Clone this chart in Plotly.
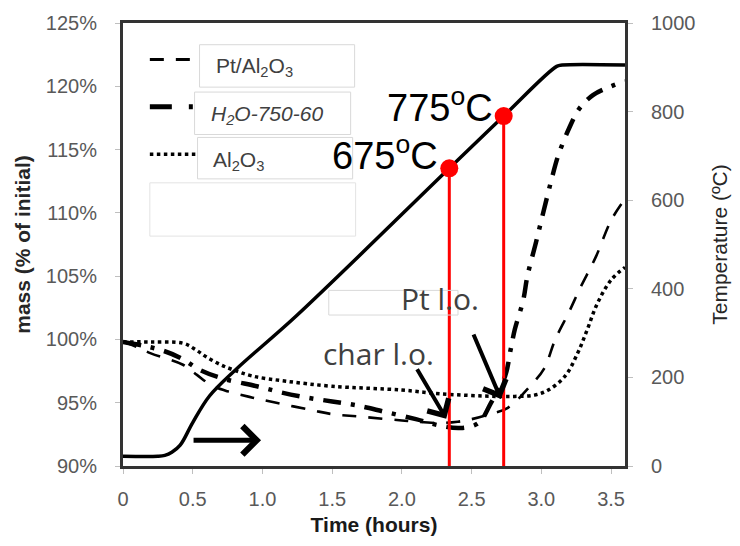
import plotly.graph_objects as go

# ---------------- data ----------------
time_pt = [0, 0.1, 0.2, 0.43, 0.53, 0.63, 0.75, 0.93, 1.14, 1.36, 1.5, 1.7, 2.0, 2.25, 2.4, 2.5, 2.6, 2.76, 2.91, 3.02, 3.1, 3.2, 3.28, 3.39, 3.5, 3.6]
mass_pt = [99.8, 99.4, 98.9, 98.0, 97.2, 96.4, 95.9, 95.4, 94.9, 94.4, 94.1, 93.9, 93.6, 93.4, 93.5, 93.7, 94.0, 94.6, 96.2, 97.7, 100.0, 102.2, 104.1, 106.5, 109.4, 111.1]

time_h2o = [0, 0.15, 0.29, 0.42, 0.55, 0.72, 0.96, 1.14, 1.32, 1.5, 1.67, 1.87, 2.1, 2.27, 2.42, 2.55, 2.64, 2.74, 2.78, 2.81, 2.87, 2.9, 2.96, 3.02, 3.07, 3.12, 3.2, 3.27, 3.37, 3.5, 3.6]
mass_h2o = [99.8, 99.5, 99.1, 98.5, 97.6, 96.9, 96.3, 95.8, 95.4, 95.1, 94.8, 94.3, 93.7, 93.2, 93.0, 93.4, 95.0, 97.1, 99.2, 100.8, 103.1, 105.0, 107.6, 110.3, 112.5, 114.5, 116.7, 118.2, 119.3, 120.0, 120.4]

time_al = [0, 0.2, 0.43, 0.52, 0.6, 0.7, 0.79, 0.93, 1.17, 1.5, 2.0, 2.28, 2.67, 2.81, 2.95, 3.05, 3.17, 3.26, 3.33, 3.4, 3.5, 3.6]
mass_al = [99.8, 99.8, 99.7, 99.2, 98.6, 98.0, 97.6, 97.1, 96.7, 96.3, 96.0, 95.7, 95.5, 95.5, 95.6, 96.0, 97.1, 98.9, 100.8, 102.8, 104.7, 105.7]

time_T = [0, 0.25, 0.3, 0.35, 0.41, 0.5, 0.62, 0.81, 1.24, 2.34, 2.73, 3.11, 3.15, 3.6]
temp_T = [22, 22, 24, 31, 47, 98, 158, 218, 338, 672, 790, 902, 905, 905]

mark_time = [2.34, 2.73]
mark_temp = [672, 790]
mark_labels = ["675<sup>o</sup>C", "775<sup>o</sup>C"]

series_names = ["Pt/Al<sub>2</sub>O<sub>3</sub>", "<i>H<sub>2</sub>O-750-60</i>", "Al<sub>2</sub>O<sub>3</sub>"]

x_ticks = [0, 0.5, 1.0, 1.5, 2.0, 2.5, 3.0, 3.5]
x_ticktext = ["0", "0.5", "1.0", "1.5", "2.0", "2.5", "3.0", "3.5"]
y_ticks = [90, 95, 100, 105, 110, 115, 120, 125]
y_ticktext = ["90%", "95%", "100%", "105%", "110%", "115%", "120%", "125%"]
y2_ticks = [0, 200, 400, 600, 800, 1000]

# ---------------- layout helpers ----------------
L, R, T, B = 123, 628, 22, 471
W, H = 740, 546

def px(x):
    return (x - L) / (R - L)

def py(y):
    return (B - y) / (B - T)

FONT = "Arial, Liberation Sans, sans-serif"
GRAY = "#595959"
DARK = "#404040"

fig = go.Figure()

fig.add_trace(go.Scatter(x=time_pt, y=mass_pt, mode="lines", name="Pt/Al2O3",
                         line=dict(color="black", width=2.6, dash="14px,12px"), line_shape="spline"))
fig.add_trace(go.Scatter(x=time_h2o, y=mass_h2o, mode="lines", name="H2O-750-60",
                         line=dict(color="black", width=4.5, dash="18px,10px,4px,10px"), line_shape="spline"))
fig.add_trace(go.Scatter(x=time_al, y=mass_al, mode="lines", name="Al2O3",
                         line=dict(color="black", width=3.5, dash="dot"), line_shape="spline"))
fig.add_trace(go.Scatter(x=time_T, y=temp_T, mode="lines", name="Temperature", yaxis="y2",
                         line=dict(color="black", width=3.5), line_shape="spline"))
for t, tc in zip(mark_time, mark_temp):
    fig.add_trace(go.Scatter(x=[t, t], y=[0, tc], mode="lines", yaxis="y2",
                             line=dict(color="red", width=3)))
fig.add_trace(go.Scatter(x=mark_time, y=mark_temp, mode="markers", yaxis="y2",
                         marker=dict(color="red", size=18)))

annotations = []
for t, tc, lab, ys in zip(mark_time, mark_temp, mark_labels, [15, 11]):
    annotations.append(dict(x=t, y=tc, xref="x", yref="y2", text=lab, showarrow=False,
                            xanchor="right", yanchor="middle", xshift=-9, yshift=ys,
                            font=dict(family=FONT, size=38, color="black")))

# arrows
annotations.append(dict(x=2.318, y=93.74, xref="x", yref="y", ax=-30, ay=-51, text="",
                        showarrow=True, arrowhead=4, arrowwidth=4, arrowsize=1.2, arrowcolor="black"))
annotations.append(dict(x=2.71, y=95.3, xref="x", yref="y", ax=-28, ay=-66, text="",
                        showarrow=True, arrowhead=4, arrowwidth=4, arrowsize=1.2, arrowcolor="black"))
annotations.append(dict(x=0.99, y=92.03, xref="x", yref="y", ax=-69, ay=0, text="",
                        showarrow=True, arrowhead=4, arrowwidth=5, arrowsize=1.1, arrowcolor="black"))

annotations.append(dict(x=px(380), y=py(357), xref="paper", yref="paper", text="char l.o.",
                        showarrow=False, xanchor="center", yanchor="middle",
                        font=dict(family="Open Sans, sans-serif", size=30, color=DARK)))
annotations.append(dict(x=px(442), y=py(301), xref="paper", yref="paper", text="Pt l.o.",
                        showarrow=False, xanchor="center", yanchor="middle",
                        font=dict(family="Open Sans, sans-serif", size=30, color=DARK)))

# legend
shapes = []
leg = [
    (59, "14px,12px", 2.8, (200, 44, 356, 87), 215, 67, 0),
    (107, "22px,17px,4px,20px", 5, (195, 92, 352, 135), 210, 115, 1),
    (155, "dot", 3.5, (198, 138, 354, 180), 212, 162, 2),
]
for ly, dash, lw, box, tx, ty, idx in leg:
    shapes.append(dict(type="line", xref="paper", yref="paper", x0=px(150), x1=px(198),
                       y0=py(ly), y1=py(ly), line=dict(color="black", width=lw, dash=dash)))
    shapes.append(dict(type="rect", xref="paper", yref="paper", x0=px(box[0]), x1=px(box[2]),
                       y0=py(box[3]), y1=py(box[1]), line=dict(color="#d9d9d9", width=1)))
    annotations.append(dict(x=px(tx), y=py(ty), xref="paper", yref="paper", text=series_names[idx],
                            showarrow=False, xanchor="left", yanchor="middle",
                            font=dict(family=FONT, size=21, color=DARK)))
shapes.append(dict(type="rect", xref="paper", yref="paper", x0=px(150), x1=px(357),
                   y0=py(238), y1=py(184), line=dict(color="#e3e3e3", width=1)))
shapes.append(dict(type="rect", xref="paper", yref="paper", x0=px(330), x1=px(460),
                   y0=py(318), y1=py(293), line=dict(color="#d9d9d9", width=1)))

fig.update_layout(
    width=W, height=H,
    margin=dict(l=L, r=W - R, t=T, b=H - B),
    paper_bgcolor="white", plot_bgcolor="white",
    showlegend=False,
    font=dict(family=FONT, color=GRAY),
    xaxis=dict(range=[0, 3.6], tickvals=x_ticks, ticktext=x_ticktext, showgrid=False, zeroline=False,
               showline=True, mirror=True, linecolor="#333333", linewidth=3,
               ticks="outside", ticklen=5, tickcolor="#bfbfbf", ticklabelstandoff=8,
               tickfont=dict(size=20, color=GRAY),
               title=dict(text="<b>Time (hours)</b>", font=dict(size=21, color="#1a1a1a"), standoff=9)),
    yaxis=dict(range=[90, 125], tickvals=y_ticks, ticktext=y_ticktext, showgrid=False, zeroline=False,
               showline=True, mirror=True, linecolor="#333333", linewidth=3,
               ticks="outside", ticklen=5, tickcolor="#bfbfbf", ticklabelstandoff=14,
               tickfont=dict(size=20, color=GRAY),
               title=dict(text="<b>mass (% of initial)</b>", font=dict(size=21, color="#262626"), standoff=10)),
    yaxis2=dict(range=[0, 1000], tickvals=y2_ticks, overlaying="y", side="right", showgrid=False,
                zeroline=False, showline=True, linecolor="#333333", linewidth=3,
                ticks="outside", ticklen=5, tickcolor="#bfbfbf", ticklabelstandoff=14,
                tickfont=dict(size=20, color=GRAY),
                title=dict(text="Temperature (ºC)", font=dict(size=21, color="#262626"), standoff=18)),
    annotations=annotations,
    shapes=shapes,
)

fig.write_html("out.html")
